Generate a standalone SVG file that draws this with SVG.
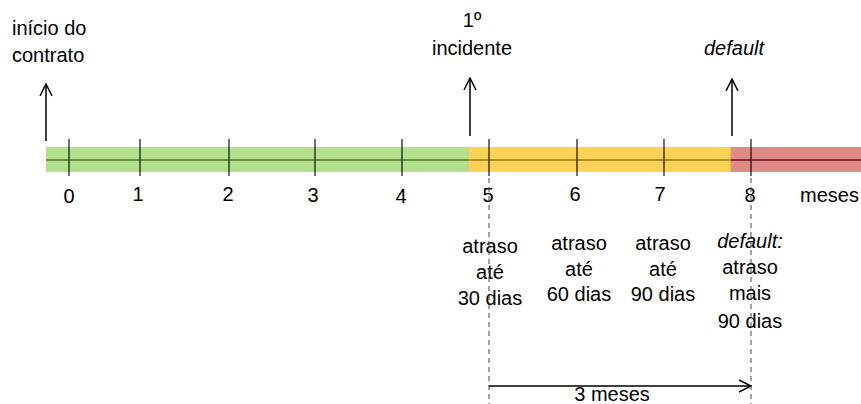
<svg xmlns="http://www.w3.org/2000/svg" width="861" height="404" viewBox="0 0 861 404">
  <defs>
    <style>
      text { font-family: "Liberation Sans", Arial, sans-serif; font-size: 20px; fill: #000; }
      .c { text-anchor: middle; }
      .i { font-style: italic; }
      .tick { stroke: #000; stroke-width: 1.4; stroke-opacity: 0.8; }
      .dash { stroke: #444; stroke-width: 1; stroke-dasharray: 5 4; fill: none; }
      .arr { stroke: #000; stroke-width: 1.5; fill: none; }
    </style>
    <marker id="head" viewBox="0 0 14 14" refX="13" refY="7" markerWidth="14" markerHeight="14" markerUnits="userSpaceOnUse" orient="auto">
      <path d="M1,1 L13,7 L1,13" fill="none" stroke="#000" stroke-width="1.5"/>
    </marker>
  </defs>

  <!-- timeline bar: phases -->
  <g id="timeline">
    <rect x="46" y="147" width="423" height="25" fill="#B6DF8C"/>
    <rect x="469" y="147" width="262" height="25" fill="#FFD257"/>
    <rect x="731" y="147" width="130" height="25" fill="#E08B8A"/>
    <line x1="731" y1="147" x2="731" y2="172" stroke="#E8A040" stroke-width="1"/>
    <line x1="46" y1="160" x2="469" y2="160" stroke="#4E7A2A" stroke-width="1.5"/>
    <line x1="469" y1="160" x2="731" y2="160" stroke="#9A7714" stroke-width="1.5"/>
    <line x1="731" y1="160" x2="861" y2="160" stroke="#6E1010" stroke-width="1.5"/>
  </g>

  <!-- month ticks -->
  <g id="ticks">
    <line class="tick" x1="69" y1="139" x2="69" y2="176"/>
    <line class="tick" x1="140" y1="139" x2="140" y2="176"/>
    <line class="tick" x1="229" y1="139" x2="229" y2="176"/>
    <line class="tick" x1="315" y1="139" x2="315" y2="176"/>
    <line class="tick" x1="402" y1="139" x2="402" y2="176"/>
    <line class="tick" x1="489" y1="139" x2="489" y2="176"/>
    <line class="tick" x1="577" y1="139" x2="577" y2="176"/>
    <line class="tick" x1="664" y1="139" x2="664" y2="176"/>
    <line class="tick" x1="751" y1="139" x2="751" y2="176"/>
  </g>

  <!-- month numbers -->
  <g id="months">
    <text class="c" x="69" y="203">0</text>
    <text class="c" x="138" y="201">1</text>
    <text class="c" x="228" y="201">2</text>
    <text class="c" x="313" y="202">3</text>
    <text class="c" x="401" y="203">4</text>
    <text class="c" x="488" y="202">5</text>
    <text class="c" x="575" y="201">6</text>
    <text class="c" x="660" y="201">7</text>
    <text class="c" x="750" y="202">8</text>
    <text x="800" y="202">meses</text>
  </g>

  <!-- event markers -->
  <g id="inicio">
    <text x="12" y="35">início do</text>
    <text x="12" y="62">contrato</text>
  </g>
  <g id="incidente">
    <text class="c" x="472" y="27">1º</text>
    <text class="c" x="472" y="55">incidente</text>
  </g>
  <g id="default">
    <text class="c i" x="734" y="55">default</text>
  </g>

  <!-- delay ranges -->
  <g id="atraso30">
    <text class="c" x="490" y="253">atraso</text>
    <text class="c" x="490" y="279">até</text>
    <text class="c" x="490" y="305">30 dias</text>
  </g>
  <g id="atraso60">
    <text class="c" x="579" y="250">atraso</text>
    <text class="c" x="579" y="276">até</text>
    <text class="c" x="579" y="301">60 dias</text>
  </g>
  <g id="atraso90">
    <text class="c" x="663" y="250">atraso</text>
    <text class="c" x="663" y="276">até</text>
    <text class="c" x="663" y="301">90 dias</text>
  </g>
  <g id="atrasoMais90">
    <text class="c i" x="750" y="248">default:</text>
    <text class="c" x="750" y="274">atraso</text>
    <text class="c" x="750" y="300">mais</text>
    <text class="c" x="750" y="328">90 dias</text>
  </g>
  <g id="periodo">
    <text class="c" x="612" y="401">3 meses</text>
  </g>

  <!-- connectors -->
  <g id="connectors">
    <line class="arr" x1="46" y1="141" x2="46" y2="84" marker-end="url(#head)"/>
    <line class="arr" x1="470" y1="136" x2="470" y2="78" marker-end="url(#head)"/>
    <line class="arr" x1="732" y1="136" x2="732" y2="79" marker-end="url(#head)"/>
    <line class="dash" x1="489" y1="178" x2="489" y2="404"/>
    <line class="dash" x1="751" y1="178" x2="751" y2="404"/>
    <line class="arr" x1="489" y1="386" x2="751" y2="386" marker-end="url(#head)"/>
  </g>
</svg>
